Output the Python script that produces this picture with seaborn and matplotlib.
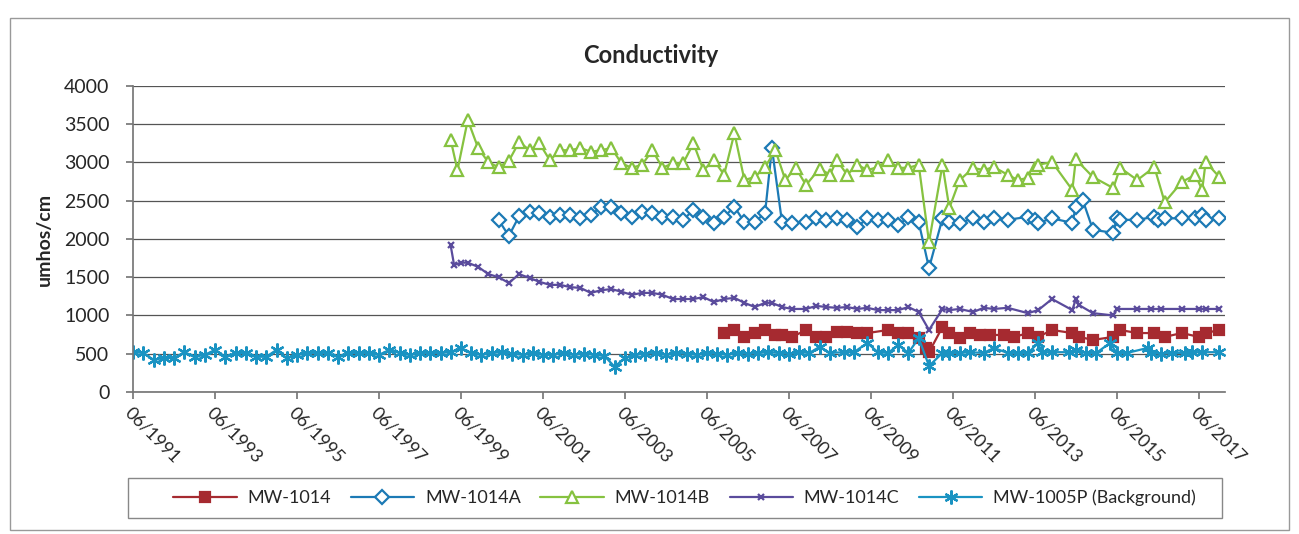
import pandas as pd
import matplotlib
matplotlib.use("Agg")
import matplotlib.pyplot as plt
import matplotlib.dates as mdates
from matplotlib.patches import Rectangle
import seaborn as sns

# MW-1014
d_1014 = ['2005-11', '2006-02', '2006-05', '2006-08', '2006-11', '2007-02', '2007-04', '2007-07',
          '2007-11', '2008-02', '2008-05', '2008-08', '2008-11', '2009-02', '2009-05', '2009-11',
          '2010-02', '2010-05', '2010-08', '2010-10', '2010-11', '2011-03', '2011-05', '2011-08',
          '2011-11', '2012-02', '2012-05', '2012-09', '2012-12', '2013-04', '2013-07', '2013-11',
          '2014-05', '2014-07', '2014-11', '2015-05', '2015-07', '2015-12', '2016-05', '2016-08',
          '2017-01', '2017-06', '2017-08', '2017-12']
v_1014 = [770, 810, 720, 770, 810, 745, 745, 720,
          810, 720, 720, 785, 785, 770, 770, 810,
          770, 770, 705, 575, 520, 850, 770, 705,
          770, 745, 745, 745, 720, 770, 720, 810,
          770, 720, 680, 720, 810, 770, 770, 720,
          770, 720, 770, 810]

# MW-1014A
d_1014a = ['2000-05', '2000-08', '2000-11', '2001-02', '2001-05', '2001-08', '2001-11', '2002-02',
           '2002-05', '2002-08', '2002-11', '2003-02', '2003-05', '2003-08', '2003-11', '2004-02',
           '2004-05', '2004-08', '2004-11', '2005-02', '2005-05', '2005-08', '2005-11', '2006-02',
           '2006-05', '2006-08', '2006-11', '2007-01', '2007-04', '2007-07', '2007-11', '2008-02',
           '2008-05', '2008-08', '2008-11', '2009-02', '2009-05', '2009-08', '2009-11', '2010-02',
           '2010-05', '2010-08', '2010-11', '2011-03', '2011-05', '2011-08', '2011-12', '2012-03',
           '2012-06', '2012-10', '2013-04', '2013-06', '2013-07', '2013-11', '2014-05', '2014-06',
           '2014-08', '2014-11', '2015-05', '2015-06', '2015-07', '2015-12', '2016-05', '2016-06',
           '2016-08', '2017-01', '2017-05', '2017-07', '2017-08', '2017-12']
v_1014a = [2250, 2040, 2300, 2350, 2340, 2290, 2310, 2310,
           2270, 2310, 2420, 2420, 2340, 2290, 2350, 2340,
           2290, 2290, 2250, 2380, 2290, 2210, 2290, 2420,
           2220, 2220, 2340, 3190, 2220, 2210, 2220, 2270,
           2250, 2270, 2250, 2160, 2270, 2250, 2250, 2180,
           2290, 2220, 1620, 2270, 2220, 2210, 2270, 2220,
           2270, 2250, 2290, 2250, 2210, 2270, 2210, 2420,
           2510, 2120, 2080, 2270, 2250, 2250, 2290, 2250,
           2270, 2270, 2270, 2310, 2250, 2270]

# MW-1014B
d_1014b = ['1999-03', '1999-05', '1999-08', '1999-11', '2000-02', '2000-05', '2000-08', '2000-11',
           '2001-02', '2001-05', '2001-08', '2001-11', '2002-02', '2002-05', '2002-08', '2002-11',
           '2003-02', '2003-05', '2003-08', '2003-11', '2004-02', '2004-05', '2004-08', '2004-11',
           '2005-02', '2005-05', '2005-08', '2005-11', '2006-02', '2006-05', '2006-08', '2006-11',
           '2007-02', '2007-05', '2007-08', '2007-11', '2008-03', '2008-06', '2008-08', '2008-11',
           '2009-02', '2009-05', '2009-08', '2009-11', '2010-02', '2010-05', '2010-08', '2010-11',
           '2011-03', '2011-05', '2011-08', '2011-12', '2012-03', '2012-06', '2012-10', '2013-01',
           '2013-04', '2013-06', '2013-07', '2013-11', '2014-05', '2014-06', '2014-11', '2015-05',
           '2015-07', '2015-12', '2016-05', '2016-08', '2017-01', '2017-05', '2017-07', '2017-08',
           '2017-12']
v_1014b = [3300, 2900, 3555, 3190, 3000, 2940, 3020, 3270,
           3160, 3250, 3030, 3160, 3160, 3190, 3140, 3160,
           3190, 2990, 2930, 2970, 3160, 2930, 2990, 2990,
           3250, 2900, 3030, 2840, 3385, 2770, 2810, 2940,
           3160, 2770, 2930, 2705, 2920, 2840, 3030, 2840,
           2970, 2900, 2940, 3030, 2930, 2930, 2970, 1960,
           2970, 2405, 2770, 2930, 2900, 2940, 2840, 2770,
           2800, 2930, 2970, 3006, 2640, 3040, 2810, 2665,
           2930, 2770, 2940, 2480, 2745, 2840, 2640, 3006,
           2810]

# MW-1014C
d_1014c = ['1999-03', '1999-04', '1999-06', '1999-08', '1999-11', '2000-02', '2000-05', '2000-08',
           '2000-11', '2001-02', '2001-05', '2001-08', '2001-11', '2002-02', '2002-05', '2002-08',
           '2002-11', '2003-02', '2003-05', '2003-08', '2003-11', '2004-02', '2004-05', '2004-08',
           '2004-11', '2005-02', '2005-05', '2005-08', '2005-11', '2006-02', '2006-05', '2006-08',
           '2006-11', '2007-01', '2007-04', '2007-07', '2007-11', '2008-02', '2008-05', '2008-08',
           '2008-11', '2009-02', '2009-05', '2009-08', '2009-11', '2010-02', '2010-05', '2010-08',
           '2010-11', '2011-03', '2011-05', '2011-08', '2011-12', '2012-03', '2012-06', '2012-10',
           '2013-04', '2013-07', '2013-11', '2014-05', '2014-06', '2014-07', '2014-11', '2015-05',
           '2015-06', '2015-12', '2016-04', '2016-07', '2017-01', '2017-06', '2017-08', '2017-12']
v_1014c = [1920, 1660, 1690, 1690, 1635, 1540, 1500, 1425,
           1540, 1490, 1440, 1400, 1400, 1370, 1360, 1295,
           1330, 1345, 1310, 1270, 1295, 1295, 1270, 1215,
           1215, 1215, 1240, 1175, 1215, 1230, 1165, 1110,
           1165, 1165, 1110, 1085, 1085, 1125, 1110, 1100,
           1110, 1085, 1100, 1070, 1070, 1070, 1110, 1045,
           810, 1085, 1070, 1085, 1045, 1100, 1085, 1100,
           1030, 1070, 1215, 1070, 1215, 1135, 1030, 1000,
           1085, 1085, 1085, 1085, 1085, 1085, 1085, 1085]

# MW-1005P (Background)
d_1005p = ['1991-06', '1991-09', '1991-12', '1992-03', '1992-06', '1992-09', '1992-12', '1993-03',
           '1993-06', '1993-09', '1993-12', '1994-03', '1994-06', '1994-09', '1994-12', '1995-03',
           '1995-06', '1995-09', '1995-12', '1996-03', '1996-06', '1996-09', '1996-12', '1997-03',
           '1997-06', '1997-09', '1997-12', '1998-03', '1998-06', '1998-09', '1998-12', '1999-03',
           '1999-06', '1999-09', '1999-12', '2000-03', '2000-06', '2000-09', '2000-12', '2001-03',
           '2001-06', '2001-09', '2001-12', '2002-03', '2002-06', '2002-09', '2002-12', '2003-03',
           '2003-06', '2003-09', '2003-12', '2004-03', '2004-06', '2004-09', '2004-12', '2005-03',
           '2005-06', '2005-09', '2005-12', '2006-03', '2006-06', '2006-09', '2006-12', '2007-03',
           '2007-06', '2007-09', '2007-12', '2008-03', '2008-06', '2008-10', '2009-01', '2009-05',
           '2009-08', '2009-11', '2010-02', '2010-05', '2010-08', '2010-11', '2011-03', '2011-05',
           '2011-08', '2011-11', '2012-03', '2012-06', '2012-10', '2013-01', '2013-04', '2013-07',
           '2013-08', '2013-11', '2014-04', '2014-06', '2014-09', '2014-12', '2015-04', '2015-06',
           '2015-09', '2016-03', '2016-04', '2016-07', '2016-10', '2017-02', '2017-04', '2017-07',
           '2017-12']
v_1005p = [520, 510, 420, 445, 445, 520, 460, 485,
           550, 460, 510, 510, 460, 460, 550, 445,
           485, 510, 510, 510, 460, 510, 510, 510,
           485, 550, 510, 485, 510, 510, 510, 520,
           575, 510, 485, 510, 520, 500, 485, 510,
           485, 485, 510, 485, 500, 485, 470, 330,
           445, 485, 500, 510, 485, 510, 500, 485,
           510, 500, 485, 510, 500, 510, 520, 510,
           500, 520, 510, 590, 510, 520, 520, 640,
           520, 510, 615, 510, 705, 340, 510, 510,
           510, 520, 510, 575, 510, 510, 510, 640,
           520, 520, 520, 545, 510, 510, 640, 510,
           510, 575, 510, 500, 510, 510, 520, 520,
           520]

series = [
    ("MW-1014", d_1014, v_1014, "#A62A30", "s", 7, "#A62A30"),
    ("MW-1014A", d_1014a, v_1014a, "#1C7AB5", "D", 7, "white"),
    ("MW-1014B", d_1014b, v_1014b, "#86C240", "^", 9, "white"),
    ("MW-1014C", d_1014c, v_1014c, "#5A4B9C", "x", 5, "#5A4B9C"),
    ("MW-1005P (Background)", d_1005p, v_1005p, "#1A93C2", (6, 2, 0), 10, "#1A93C2"),
]

sns.set_theme(style="white")
plt.rcParams["font.family"] = ["Lato", "DejaVu Sans"]

fig = plt.figure(figsize=(12.99, 5.34), dpi=100)
ax = fig.add_axes([0.1024, 0.266, 0.8406, 0.573])

for name, d, v, col, mk, ms, face in series:
    df = pd.DataFrame({"date": pd.to_datetime(d), "value": v})
    sns.lineplot(data=df, x="date", y="value", ax=ax, color=col, marker=mk,
                 markersize=ms, markerfacecolor=face, markeredgecolor=col,
                 markeredgewidth=1.6, linewidth=1.6, label=name, estimator=None)

ax.set_ylim(0, 4000)
ax.set_yticks(range(0, 4001, 500))
ax.set_xlim(pd.Timestamp("1991-06-01"), pd.Timestamp("2018-01-20"))
ax.set_xticks(pd.date_range("1991-06-01", "2017-06-01", freq="24MS"))
ax.xaxis.set_major_formatter(mdates.DateFormatter("%m/%Y"))
ax.grid(axis="y", color="#555555", linewidth=0.9)
ax.grid(axis="x", visible=False)
for s in ["top", "right"]:
    ax.spines[s].set_visible(False)
for s in ["left", "bottom"]:
    ax.spines[s].set_color("#777777")
ax.tick_params(axis="both", which="major", direction="out", length=5, color="#777777",
               bottom=True, left=True)
ax.tick_params(axis="y", labelsize=14, pad=12)
ax.tick_params(axis="x", labelsize=13, pad=4)
for lbl in ax.get_xticklabels():
    lbl.set_rotation(-45)
    lbl.set_ha("left")
    lbl.set_va("top")
    lbl.set_rotation_mode("anchor")

ax.set_xlabel("")
ax.set_ylabel("umhos/cm", fontsize=14, fontweight="bold", labelpad=8)
fig.text(0.501, 0.897, "Conductivity", ha="center", va="center", fontsize=17, fontweight="bold")

# legend box spans the plot width, entries sit centred inside it
fig.patches.append(Rectangle((0.0985, 0.030), 0.842, 0.075, transform=fig.transFigure,
                             fill=False, edgecolor="#888888", linewidth=1))
ax.legend(loc="center", ncol=5, bbox_to_anchor=(0.527, 0.0675),
          bbox_transform=fig.transFigure, fontsize=13, frameon=False,
          handlelength=3.5, columnspacing=1.1, handletextpad=0.6, borderaxespad=0)

fig.patches.append(Rectangle((0.008, 0.008), 0.984, 0.958, transform=fig.transFigure,
                             fill=False, edgecolor="#999999", linewidth=1))

fig.savefig("out.png", dpi=100)
